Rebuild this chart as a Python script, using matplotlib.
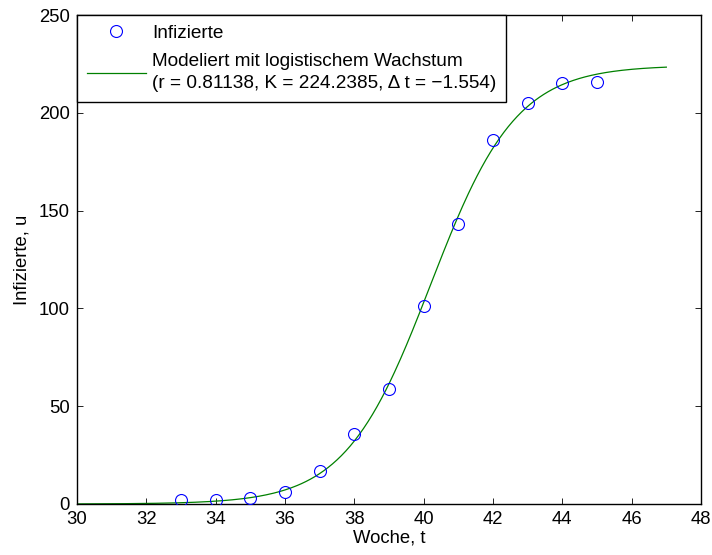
import numpy as np
import matplotlib
matplotlib.use("Agg")
import matplotlib.pyplot as plt

plt.rcParams['font.family'] = ['Liberation Sans', 'DejaVu Sans']

weeks = [33, 34, 35, 36, 37, 38, 39, 40, 41, 42, 43, 44, 45]
infected = [2, 2, 3, 6, 17, 36, 59, 101, 143, 186, 205, 215, 216]

# logistic model parameters
r = 0.81138
K = 224.2385
t_mid = 40.2
t_start, t_end = 30, 47

xticks = [30, 32, 34, 36, 38, 40, 42, 44, 46, 48]
yticks = [0, 50, 100, 150, 200, 250]

fs = 13.3
lfs = 13.7
fig = plt.figure(figsize=(7.12, 5.55), dpi=100)
ax = fig.add_axes([77/712, 51/555, 624/712, 489/555])

t = np.linspace(t_start, t_end, 400)
u = K / (1 + np.exp(-r * (t - t_mid)))

ax.plot(weeks, infected, 'o', mfc='none', mec='blue', ms=8.6, mew=0.8,
        label='Infizierte', zorder=3)
ax.plot(t, u, color=(0, 0.5, 0), lw=0.9,
        label='Modeliert mit logistischem Wachstum\n(r = 0.81138, K = 224.2385, \u0394 t = \u22121.554)')

ax.set_xlim(30, 48)
ax.set_ylim(0, 250)
ax.set_xticks(xticks)
ax.set_yticks(yticks)
ax.tick_params(direction='in', length=4.5, width=0.6, top=True, right=True,
               labelsize=fs, pad=5)
for s in ax.spines.values():
    s.set_linewidth(1.0)

ax.set_xlabel('Woche, t', fontsize=fs, labelpad=1)
ax.set_ylabel('Infizierte, u', fontsize=fs, labelpad=6)

leg = ax.legend(loc='upper left', borderaxespad=0, fontsize=lfs, frameon=True,
                fancybox=False, edgecolor='black', framealpha=1,
                handlelength=3.1, handletextpad=0.33, borderpad=0.5,
                labelspacing=0.6)
leg.get_texts()[1].set_linespacing(1.4)
leg.get_frame().set_linewidth(1.0)

fig.savefig('out.png', dpi=100)
